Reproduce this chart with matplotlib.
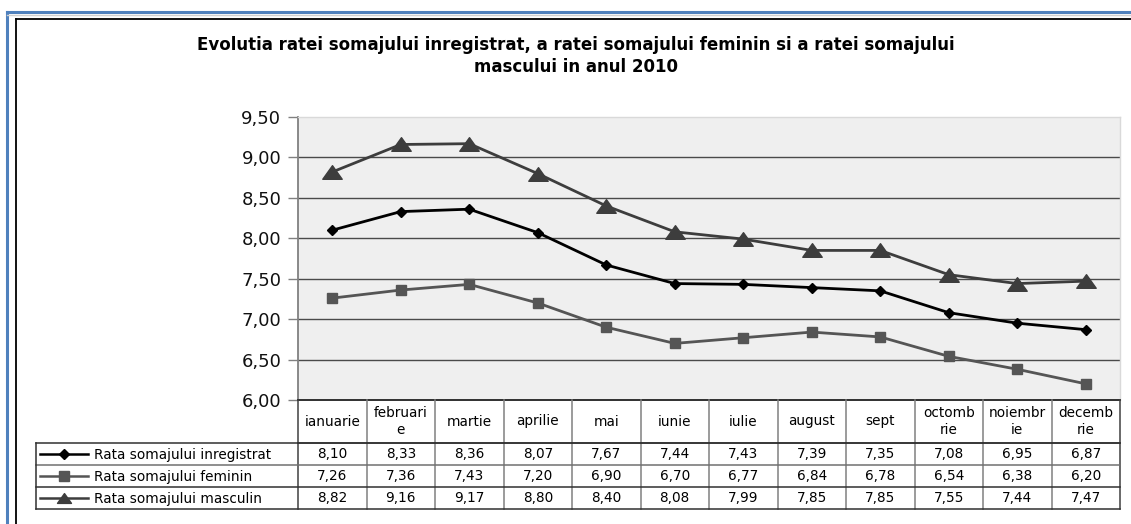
import matplotlib
matplotlib.use("Agg")
import matplotlib.pyplot as plt
import numpy as np
from matplotlib.lines import Line2D
from matplotlib.path import Path

plt.rcParams['font.family'] = ['DejaVu Sans']

# ---------------- data ----------------
months = ["ianuarie", "februari\ne", "martie", "aprilie", "mai", "iunie", "iulie",
          "august", "sept", "octomb\nrie", "noiembr\nie", "decemb\nrie"]
inregistrat = [8.10, 8.33, 8.36, 8.07, 7.67, 7.44, 7.43, 7.39, 7.35, 7.08, 6.95, 6.87]
feminin = [7.26, 7.36, 7.43, 7.20, 6.90, 6.70, 6.77, 6.84, 6.78, 6.54, 6.38, 6.20]
masculin = [8.82, 9.16, 9.17, 8.80, 8.40, 8.08, 7.99, 7.85, 7.85, 7.55, 7.44, 7.47]
series_names = ["Rata somajului inregistrat", "Rata somajului feminin", "Rata somajului masculin"]
yticks = [6.0, 6.5, 7.0, 7.5, 8.0, 8.5, 9.0, 9.5]
title = ("Evolutia ratei somajului inregistrat, a ratei somajului feminin si a ratei somajului\n"
         "mascului in anul 2010")

def fmt(v):
    return f"{v:.2f}".replace(".", ",")

W, H = 1131, 524
fig = plt.figure(figsize=(W / 100, H / 100), dpi=100)
fig.patch.set_facecolor("white")

def fx(x):
    return x / W

def fy(y):
    return 1 - y / H

# outer borders
fig.add_artist(Line2D([fx(7), fx(7)], [fy(12), 0], color="#4f81bd", lw=2.2))
fig.add_artist(Line2D([fx(7), 1], [fy(12), fy(12)], color="#4f81bd", lw=2.2))
fig.add_artist(Line2D([fx(7), 1], [fy(15), fy(15)], color="#d0d0d0", lw=1))
fig.add_artist(Line2D([fx(16), fx(16)], [fy(19), 0], color="black", lw=1.3))
fig.add_artist(Line2D([fx(16), 1], [fy(19), fy(19)], color="black", lw=1.3))

# main axes
L, R, T, B = 298, 1120, 117, 400
ax = fig.add_axes([fx(L), fy(B), fx(R - L), (B - T) / H])
ax.set_facecolor("#efefef")
x = np.arange(len(months))
ax.set_xlim(-0.5, len(months) - 0.5)
ax.set_ylim(6.0, 9.5)
ax.set_yticks(yticks)
ax.set_yticklabels([fmt(v) for v in yticks], fontsize=13)
ax.set_xticks([])
ax.tick_params(axis="y", length=7, width=1, color="#808080", pad=5, labelcolor="#111111")
for v in yticks[1:-1]:
    ax.axhline(v, color="#4a4a4a", lw=1, zorder=1)
for s in ["top", "right"]:
    ax.spines[s].set_color("#d9d9d9")
    ax.spines[s].set_linewidth(1)
ax.spines["left"].set_color("#808080")
ax.spines["left"].set_linewidth(1.3)
ax.spines["bottom"].set_color("#202020")
ax.spines["bottom"].set_linewidth(1.3)

tri = Path([(0, 0.7), (-1, -0.7), (1, -0.7), (0, 0.7)], closed=True)

styles = [
    dict(color="black", marker="D", markersize=5.3, lw=2.0),
    dict(color="#555555", marker="s", markersize=6.5, lw=2.0),
    dict(color="#3d3d3d", marker=tri, markersize=14, lw=2.0),
]
for vals, st in zip([inregistrat, feminin, masculin], styles):
    ax.plot(x, vals, color=st["color"], lw=st["lw"], marker=st["marker"],
            markersize=st["markersize"], markerfacecolor=st["color"],
            markeredgecolor=st["color"], zorder=3, clip_on=False)

# title
fig.text(fx(576), fy(56), title, ha="center", va="center", fontsize=12,
         fontweight="bold", linespacing=1.3)

# table axes
TL, TB = 36, 509
tax = fig.add_axes([fx(TL), fy(TB), fx(R - TL), (TB - B) / H])
unit = (R - L) / len(months)
tx0 = -0.5 - (L - TL) / unit
tax.set_xlim(tx0, len(months) - 0.5)
tax.set_ylim(TB - B, 0)
tax.axis("off")

hdr = 43
rows = [hdr, hdr + 22, hdr + 44, hdr + 66]
vcol = "#808080"
hcol = "#303030"
# vertical lines between month columns
for i in range(len(months) + 1):
    xb = i - 0.5
    tax.plot([xb, xb], [0, rows[-1]], color=vcol if 0 < i < len(months) else "#404040",
             lw=1.1, clip_on=False)
# horizontal lines
tax.plot([-0.5, len(months) - 0.5], [hdr, hdr], color=hcol, lw=1.1, clip_on=False)
for r in rows:
    tax.plot([tx0, len(months) - 0.5], [r, r], color=hcol if r != rows[1] else "#707070",
             lw=1.1, clip_on=False)
tax.plot([tx0, tx0], [hdr, rows[-1]], color=hcol, lw=1.1, clip_on=False)

for i, m in enumerate(months):
    tax.text(i, hdr / 2, m, ha="center", va="center", fontsize=9.8, linespacing=1.3)

for r, (name, vals, st) in enumerate(zip(series_names, [inregistrat, feminin, masculin], styles)):
    yc = (rows[r] + rows[r + 1]) / 2
    for i, v in enumerate(vals):
        tax.text(i, yc + 0.5, fmt(v), ha="center", va="center", fontsize=9.8)
    # legend key
    kx0 = tx0 + 4 / unit
    kx1 = tx0 + 52 / unit
    tax.plot([kx0, kx1], [yc, yc], color=st["color"], lw=1.8, clip_on=False)
    tax.plot([(kx0 + kx1) / 2], [yc], marker=st["marker"], color=st["color"],
             markersize=st["markersize"] * (0.72 if st["marker"] is tri else 1.0),
             clip_on=False)
    tax.text(tx0 + 58 / unit, yc + 0.5, name, ha="left", va="center", fontsize=9.8)

fig.savefig("out.png", dpi=100)
